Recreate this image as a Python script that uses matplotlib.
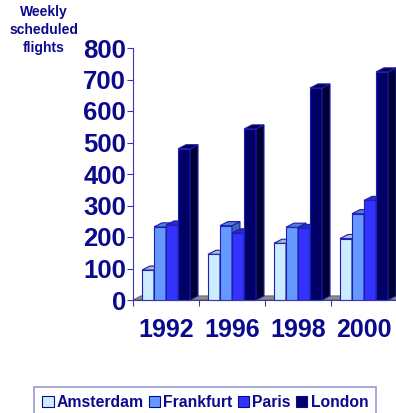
import matplotlib
matplotlib.use("Agg")
import matplotlib.pyplot as plt
from matplotlib.patches import Polygon, Patch

years = ["1992", "1996", "1998", "2000"]
series = ["Amsterdam", "Frankfurt", "Paris", "London"]
amsterdam = [95, 145, 180, 195]
frankfurt = [232, 236, 231, 274]
paris = [238, 213, 227, 316]
london = [480, 543, 673, 724]
yticks = [0, 100, 200, 300, 400, 500, 600, 700, 800]

front_colors = ["#CCECFF", "#6699FF", "#3333FF", "#000066"]
top_colors = ["#A6BCCC", "#4F7FD6", "#2A2ACC", "#000044"]
side_colors = ["#8FA8B8", "#4466BB", "#2222AA", "#000033"]
navy = "#0A0A8C"
edge = "#1E1EB0"

plt.rcParams['font.family'] = ['Liberation Sans', 'DejaVu Sans']

fig = plt.figure(figsize=(3.96, 4.13), dpi=100)
ax = fig.add_axes([133/396, 1-300/413, 264/396, 252/413])
ax.set_xlim(0, 4)
ax.set_ylim(0, 800)

bw = 0.182
lead = 0.136
dx = 0.121
dy = 13.0

# floor
ax.add_patch(Polygon([(0, 0), (4, 0), (4 + dx, dy), (dx, dy)], closed=True,
                     facecolor="#8C8C8C", edgecolor="#555555", lw=0.6,
                     zorder=1, clip_on=False))

data = [amsterdam, frankfurt, paris, london]
z = 2
for g in range(len(years)):
    for s, vals in enumerate(data):
        h = vals[g]
        x0 = g + lead + s * bw
        x1 = x0 + bw
        ax.bar(x0, h, width=bw, align="edge", color=front_colors[s],
               edgecolor=edge, linewidth=0.8, zorder=z, clip_on=False)
        ax.add_patch(Polygon([(x1, 0), (x1, h), (x1 + dx, h + dy), (x1 + dx, dy)],
                             closed=True, facecolor=side_colors[s], edgecolor=edge,
                             lw=0.8, zorder=z, clip_on=False))
        ax.add_patch(Polygon([(x0, h), (x1, h), (x1 + dx, h + dy), (x0 + dx, h + dy)],
                             closed=True, facecolor=top_colors[s], edgecolor=edge,
                             lw=0.8, zorder=z, clip_on=False))
        z += 1

for sp in ["top", "right"]:
    ax.spines[sp].set_visible(False)
ax.spines["left"].set_color("#3A3AA8")
ax.spines["bottom"].set_color("#3A3AA8")
ax.spines["left"].set_linewidth(0.8)
ax.spines["bottom"].set_linewidth(0.8)
ax.spines["bottom"].set_zorder(100)

ax.set_yticks(yticks)
ax.set_yticklabels([str(v) for v in yticks], fontsize=18.5, fontweight="bold", color=navy)
ax.tick_params(axis="y", length=4, width=0.8, color="#3A3AA8", pad=1)

ax.set_xticks([g + 0.5 for g in range(len(years))])
ax.set_xticklabels(years, fontsize=18, fontweight="bold", color=navy)
ax.set_xticks(list(range(len(years))), minor=True)
ax.tick_params(axis="x", which="major", length=0, pad=13)
ax.tick_params(axis="x", which="minor", length=4, width=0.8, color="#3A3AA8")

fig.text(44/396, 1 - 5/413, "Weekly\nscheduled\nflights", ha="center", va="top",
         fontsize=10, fontweight="bold", color=navy, linespacing=1.35)

handles = [Patch(facecolor=c, edgecolor=navy, lw=0.8) for c in front_colors]
leg = fig.legend(handles, series, loc="upper center", bbox_to_anchor=(205/396, 1 - 387/413),
                 ncol=4, frameon=True, fancybox=False, edgecolor="#8080C8",
                 prop={"size": 11.3, "weight": "bold"}, handlelength=0.75,
                 handleheight=0.75, handletextpad=0.2, columnspacing=0.3,
                 borderpad=0.5, borderaxespad=0)
for t in leg.get_texts():
    t.set_color(navy)
leg.get_frame().set_linewidth(1.2)

fig.savefig("out.png", dpi=100)
